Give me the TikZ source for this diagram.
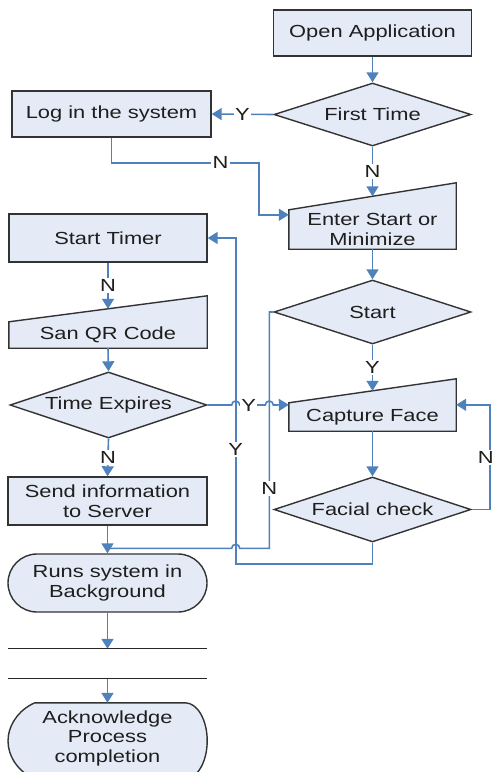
\documentclass[tikz,border=0pt]{standalone}
\usepackage{fontspec}
\setmainfont{Liberation Sans}[FakeStretch=1.25]
\usetikzlibrary{shapes.geometric,arrows.meta,calc,backgrounds}
\definecolor{boxfill}{HTML}{E4EBF6}
\definecolor{flowblue}{HTML}{4F81BD}
\definecolor{edgegray}{HTML}{333333}
\definecolor{ink}{HTML}{1E1E1E}

\begin{document}
\begin{tikzpicture}[x=1pt,y=-1pt,
  txt/.style={font=\fontsize{17.5}{19.5}\selectfont, text=ink, align=center, inner sep=0pt},
  procbox/.style={txt, rectangle, draw=edgegray, fill=boxfill, line width=1.4pt},
  decision/.style={txt, diamond, aspect=3, draw=edgegray, fill=boxfill, line width=1.4pt},
  slot/.style={txt, rectangle},
  outline/.style={draw=edgegray, fill=boxfill, line width=1.4pt},
  flow/.style={draw=flowblue, line width=1.6pt, -{Triangle[length=10pt,width=12pt]}},
  link/.style={draw=flowblue, line width=1.6pt},
  lab/.style={font=\fontsize{17.5}{19.5}\selectfont, text=ink, fill=white, inner sep=1.5pt},
  rulebar/.style={draw=black!85, line width=1.2pt}
]
\useasboundingbox (0,0) rectangle (493,772);

% right column
\node[procbox, minimum width=198, minimum height=46] (open) at (372.5,33) {Open Application};
\node[decision, minimum width=197, minimum height=63] (first) at (372.5,114.5) {First Time};
\node[slot, minimum width=167, minimum height=39] (enter) at (372.5,229.5) {Enter Start or\\Minimize};
\node[decision, minimum width=197, minimum height=64] (start) at (372.5,312) {Start};
\node[slot, minimum width=167, minimum height=28] (capture) at (372.5,417) {Capture Face};
\node[decision, minimum width=197, minimum height=65] (facial) at (372.5,509.5) {Facial check};

% left column
\node[procbox, minimum width=199, minimum height=46] (login) at (111.5,114) {Log in the system};
\node[procbox, minimum width=198, minimum height=48] (timer) at (108,238) {Start Timer};
\node[slot, minimum width=198, minimum height=26] (qr) at (108,335) {San QR Code};
\node[decision, minimum width=197, minimum height=66] (expires) at (108.5,405) {Time Expires};
\node[procbox, minimum width=199, minimum height=48] (send) at (107.5,501) {Send information\\to Server};
\node[procbox, rounded corners=29pt, minimum width=199, minimum height=58] (runs) at (107.5,583) {Runs system in\\Background};
\node[minimum width=199, minimum height=29, inner sep=0pt] (par) at (107.5,663.5) {};
\node[slot, minimum width=199, minimum height=70] (ack) at (107.5,738) {Acknowledge\\Process\\completion};

% manual-input and display outlines behind their texts
\begin{scope}[on background layer]
  \path[outline] (enter.south west) -- (enter.south east) -- ([yshift=27pt]enter.north east) -- (enter.north west) -- cycle;
  \path[outline] (capture.south west) -- (capture.south east) -- ([yshift=24pt]capture.north east) -- (capture.north west) -- cycle;
  \path[outline] (qr.south west) -- (qr.south east) -- ([yshift=26pt]qr.north east) -- (qr.north west) -- cycle;
  \path[outline] ($(ack.north west)+(27,0)$) -- ($(ack.north east)+(-22,0)$)
     arc[start angle=-90, end angle=90, x radius=22, y radius=38]
     -- ($(ack.north west)+(27,76)$) .. controls (18,772) and (8,756) .. (8,741)
     .. controls (8,726) and (18,710) .. cycle;
\end{scope}

% helper points
\coordinate (yx) at ([xshift=28pt]timer.east);
\coordinate (nx) at ([xshift=-4pt]start.west);
\coordinate (join) at ([yshift=5pt]runs.north);
\coordinate (enterin) at ([yshift=-5pt]enter.north west);
\coordinate (capinL) at ([yshift=-2pt]capture.north west);
\coordinate (capinR) at ([yshift=-2pt]capture.north east);

% connectors
\draw[flow] (open.south) -- (first.north);
\draw[flow] (first.west) -- node[lab]{Y} (login.east);
\draw[flow] (login.south) -- ++(0,25) -| node[lab,pos=0.37]{N} ([xshift=-30pt]enterin) -- (enterin);
\draw[flow] (first.south) -- node[lab]{N} ([yshift=13.5pt]enter.north);
\draw[flow] (enter.south) -- (start.north);
\draw[flow] (start.south) -- node[lab]{Y} ([yshift=12pt]capture.north);
\draw[flow] (capture.south) -- (facial.north);
\draw[flow] (facial.east) -- ++(18,0) |- node[lab,pos=0.25,xshift=-4pt]{N} (capinR);
\draw[flow] (facial.south) -- ++(0,21) -| node[lab,pos=0.675]{Y} (yx) -- (timer.east);
\draw[link] (start.west) -- (nx) -- node[lab,pos=0.745]{N} (nx |- join)
   -- ($(yx |- join)+(4,0)$) arc (0:-180:4) -- (join);
\draw[flow] (timer.south) -- node[lab]{N} ([yshift=13pt]qr.north);
\draw[flow] (qr.south) -- (expires.north);
\draw[flow] (expires.east) -- ($(yx |- expires.east)+(-4,0)$) arc (180:360:4)
   -- node[lab,pos=0.35]{Y} ($(nx |- expires.east)+(-4,0)$) arc (180:360:4) -- (capinL);
\draw[flow] (expires.south) -- node[lab]{N} (send.north);
\draw[flow] (send.south) -- (runs.north);
\draw[flow] (runs.south) -- (par.north);
\draw[flow] (par.south) -- (ack.north);
\draw[rulebar] (par.north west) -- (par.north east) (par.south west) -- (par.south east);
\end{tikzpicture}
\end{document}
